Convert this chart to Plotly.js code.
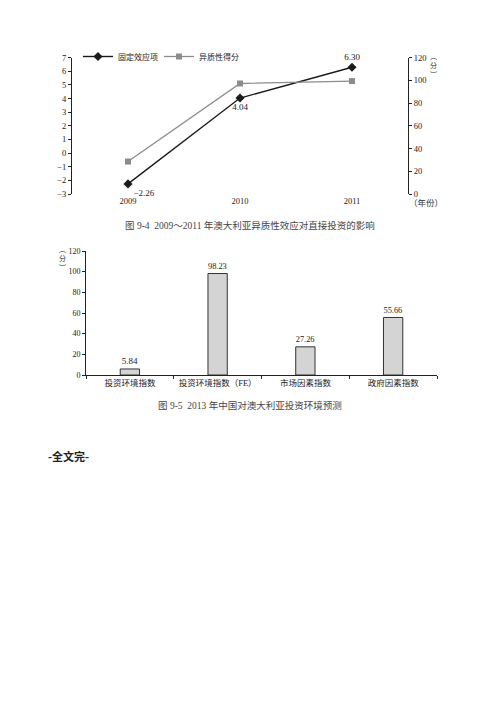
<!DOCTYPE html>
<html>
<head>
<meta charset="utf-8">
<script src="https://cdn.plot.ly/plotly-3.0.1.min.js"></script>
<style>html,body{margin:0;padding:0;background:#fff;}#chart{width:500px;height:707px;}</style>
</head>
<body>
<div id="chart"></div>
<script>
// ---- Data: figure 9-4 ----
const years = ['2009', '2010', '2011'];
const fixedEffect = [-2.26, 4.04, 6.30];      // 固定效应项 (left axis)
const heteroScore = [28.6, 97.3, 99.4];       // 异质性得分 (right axis, 分)
const leftTicks = [-3, -2, -1, 0, 1, 2, 3, 4, 5, 6, 7];
const rightTicks = [0, 20, 40, 60, 80, 100, 120];
const seriesNames = ['固定效应项', '异质性得分'];

// ---- Data: figure 9-5 ----
const barCategories = ['投资环境指数', '投资环境指数（FE）', '市场因素指数', '政府因素指数'];
const barValues = [5.84, 98.23, 27.26, 55.66];
const barTicks = [0, 20, 40, 60, 80, 100, 120];

// ---- Texts ----
const caption1 = '图 9-4  2009～2011 年澳大利亚异质性效应对直接投资的影响';
const caption2 = '图 9-5  2013 年中国对澳大利亚投资环境预测';
const endText = '-全文完-';

// ---- Layout helpers (pixel -> paper) ----
const W = 500, H = 707;
const fx = p => p / W;
const fy = p => 1 - p / H;

const SERIF = '"Liberation Serif", "DejaVu Serif", "Noto Sans CJK SC", serif';
const CJK = '"Liberation Serif", "Noto Sans CJK SC", sans-serif';
const axFont = (s) => ({family: SERIF, size: s || 8.5, color: '#222222'});

const y1dom = [fy(194), fy(57.7)];
const zeroPos = y1dom[0] + (0 - (-3)) / 10 * (y1dom[1] - y1dom[0]);

const traces = [
  {
    type: 'scatter', mode: 'lines+markers+text', name: seriesNames[0],
    x: years, y: fixedEffect, xaxis: 'x', yaxis: 'y', legend: 'legend',
    line: {color: '#1a1a1a', width: 1.4},
    marker: {symbol: 'diamond', size: 7, color: '#1a1a1a'},
    text: fixedEffect.map(v => v.toFixed(2).replace('-', '−')),
    textposition: ['bottom right', 'bottom center', 'top center'],
    textfont: {family: SERIF, size: 9, color: '#222222'},
    cliponaxis: false, hoverinfo: 'skip'
  },
  {
    type: 'scatter', mode: 'lines+markers', name: seriesNames[1],
    x: years, y: heteroScore, xaxis: 'x', yaxis: 'y2', legend: 'legend2',
    line: {color: '#8c8c8c', width: 1.3},
    marker: {symbol: 'square', size: 6, color: '#8c8c8c'},
    cliponaxis: false, hoverinfo: 'skip'
  },
  {
    type: 'bar', name: 'bars', showlegend: false,
    x: barCategories, y: barValues, xaxis: 'x3', yaxis: 'y3',
    width: 0.22,
    marker: {color: '#d4d4d4', line: {color: '#333333', width: 1}},
    text: barValues.map(v => v.toFixed(2)), textposition: 'outside',
    textfont: {family: SERIF, size: 9, color: '#222222'},
    cliponaxis: false, hoverinfo: 'skip'
  }
];

const legendBase = (x) => ({
  orientation: 'h', x: x, xanchor: 'left', y: fy(42), yanchor: 'top',
  font: {family: CJK, size: 8, color: '#222222'}, bgcolor: 'rgba(0,0,0,0)',
  itemwidth: 30
});

const ann = (x, y, text, font, extra) => Object.assign({
  xref: 'paper', yref: 'paper', x: x, y: y, xanchor: 'center', yanchor: 'middle',
  text: text, showarrow: false, font: font
}, extra || {});

const layout = {
  width: W, height: H,
  margin: {l: 0, r: 0, t: 0, b: 0, pad: 0},
  paper_bgcolor: '#ffffff', plot_bgcolor: 'rgba(0,0,0,0)',
  showlegend: true,
  legend: legendBase(fx(78)),
  legend2: legendBase(fx(159)),
  // Figure 9-4
  xaxis: {
    domain: [fx(72), fx(408)], anchor: 'y', type: 'category', range: [-0.5, 2.5],
    showline: false, showgrid: false, zeroline: false, ticks: '',
    tickfont: axFont(), automargin: false, fixedrange: true
  },
  xaxis2: {
    domain: [fx(72), fx(408)], overlaying: 'x', anchor: 'free', position: zeroPos,
    range: [-0.5, 2.5], showline: true, linecolor: '#222222', linewidth: 1.2,
    tickvals: [0.5, 1.5], ticks: 'inside', ticklen: 3, tickcolor: '#222222',
    showticklabels: false, showgrid: false, zeroline: false
  },
  yaxis: {
    domain: y1dom, anchor: 'x', range: [-3, 7], tickvals: leftTicks,
    showline: true, linecolor: '#222222', linewidth: 1, ticks: 'outside', ticklen: 3,
    tickcolor: '#222222', showgrid: false, zeroline: false, tickfont: axFont(), automargin: false
  },
  yaxis2: {
    domain: y1dom, anchor: 'x', overlaying: 'y', side: 'right', range: [0, 120],
    tickvals: rightTicks, showline: true, linecolor: '#222222', linewidth: 1,
    ticks: 'outside', ticklen: 3, tickcolor: '#222222', showgrid: false, zeroline: false,
    tickfont: axFont(), automargin: false
  },
  // Figure 9-5
  xaxis3: {
    domain: [fx(86), fx(437)], anchor: 'y3', type: 'category', range: [-0.5, 3.5],
    showline: true, linecolor: '#222222', linewidth: 1.2, tickson: 'boundaries',
    ticks: 'outside', ticklen: 3, tickcolor: '#222222', showgrid: false,
    tickfont: {family: CJK, size: 8.5, color: '#222222'}, automargin: false
  },
  yaxis3: {
    domain: [fy(375), fy(251)], anchor: 'x3', range: [0, 120], tickvals: barTicks,
    showline: true, linecolor: '#222222', linewidth: 1, ticks: 'outside', ticklen: 3,
    tickcolor: '#222222', showgrid: false, zeroline: false, tickfont: axFont(8), automargin: false
  },
  annotations: [
    ann(fx(433), fy(65), '︵<br>分<br>︶', {family: '"Noto Sans CJK SC", sans-serif', size: 7, color: '#333333'}),
    ann(fx(426), fy(203), '（年份）', {family: CJK, size: 8.5, color: '#333333'}),
    ann(fx(250), fy(225), caption1, {family: CJK, size: 9.5, color: '#444444'}),
    ann(fx(62), fy(258), '︵<br>分<br>︶', {family: '"Noto Sans CJK SC", sans-serif', size: 7, color: '#333333'}),
    ann(fx(250), fy(406), caption2, {family: CJK, size: 9.5, color: '#444444'}),
    ann(fx(46), fy(456), '<b>' + endText + '</b>', {family: '"Noto Sans CJK SC", sans-serif', size: 11, color: '#222222'}, {xanchor: 'left'})
  ]
};

Plotly.newPlot('chart', traces, layout, {staticPlot: true, displayModeBar: false});
</script>
</body>
</html>
